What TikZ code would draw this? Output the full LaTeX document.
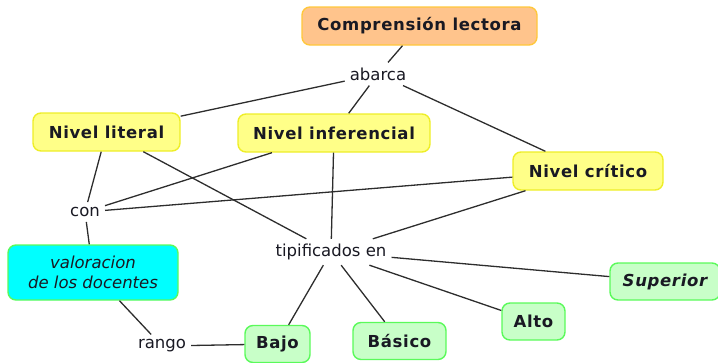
\documentclass[tikz,border=0pt]{standalone}
\usepackage{fontspec}
\setmainfont{DejaVu Sans}
\newfontfamily\widefont[LetterSpace=4]{DejaVu Sans}
\usepackage{tikz}
\definecolor{orangefill}{RGB}{255,196,140}
\definecolor{orangeline}{RGB}{255,200,60}
\definecolor{yellowfill}{RGB}{255,255,136}
\definecolor{yellowline}{RGB}{238,238,40}
\definecolor{cyanfill}{RGB}{0,255,255}
\definecolor{greenfill}{RGB}{200,255,200}
\definecolor{greenline}{RGB}{90,250,90}
\definecolor{inkline}{RGB}{45,45,45}
\definecolor{inktext}{RGB}{25,25,35}

\begin{document}
\begin{tikzpicture}[x=1pt,y=-1pt,
  box/.style={draw, rectangle, rounded corners=8pt, line width=1.4pt, inner sep=0pt,
    font=\widefont\fontsize{16.5}{19}\selectfont\bfseries, text=inktext},
  topic/.style={box, fill=orangefill, draw=orangeline},
  level/.style={box, fill=yellowfill, draw=yellowline, minimum height=38pt},
  grade/.style={box, fill=greenfill, draw=greenline, minimum height=37pt},
  note/.style={box, fill=cyanfill, draw=greenline, font=\fontsize{16.5}{20}\selectfont\itshape, align=center},
  link/.style={inner sep=5pt, font=\fontsize{16.5}{19}\selectfont, text=inktext},
  conn/.style={draw=inkline, line width=1.3pt}]
\useasboundingbox (0,0) rectangle (718,362);
\node[topic, minimum width=235pt, minimum height=38pt] (1) at (419.5,26) {Comprensión lectora};
\node[link] (2) at (378,74) {abarca};
\node[level, minimum width=147pt] (3) at (106.5,132) {Nivel literal};
\node[level, minimum width=192pt] (4) at (334,133) {Nivel inferencial};
\node[level, minimum width=150pt] (5) at (588,171) {Nivel crítico};
\node[link] (6) at (85,212) {con};
\node[link] (7) at (331,252) {tipificados en};
\node[note, minimum width=170pt, minimum height=55pt] (8) at (93,272.5) {valoracion\\de los docentes};
\node[link] (9) at (162,346) {rango};
\node[grade, minimum width=65pt] (10) at (277.5,344) {Bajo};
\node[grade, minimum width=93pt] (11) at (399.5,341) {Básico};
\node[grade, minimum width=63pt] (12) at (533.5,321.5) {Alto};
\node[grade, minimum width=110pt, font=\widefont\fontsize{16.5}{19}\selectfont\bfseries\itshape] (13) at (665,281.5) {Superior};
\path[conn] (1) -- (2);
\path[conn] (2) -- (3);
\path[conn] (2) -- (4);
\path[conn] (2) -- (5);
\path[conn] (3) -- (6);
\path[conn] (4) -- (6);
\path[conn] (5) -- (6);
\path[conn] (6) -- (8);
\path[conn] (3) -- (7);
\path[conn] (4) -- (7);
\path[conn] (5) -- (7);
\path[conn] (7) -- (10);
\path[conn] (7) -- (11);
\path[conn] (7) -- (12);
\path[conn] (7) -- (13);
\path[conn] (8) -- (9);
\path[conn] (9) -- (10);
\end{tikzpicture}
\end{document}
